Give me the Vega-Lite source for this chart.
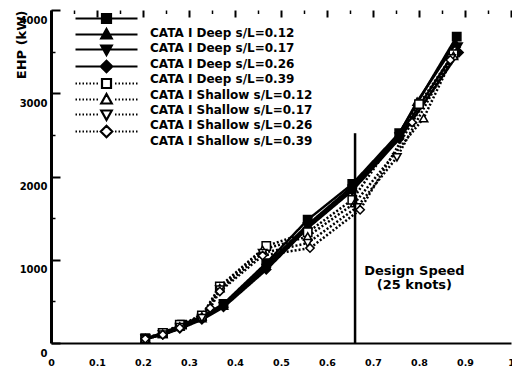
{
  "$schema": "https://vega.github.io/schema/vega-lite/v6.json",
  "width": 460,
  "height": 333,
  "autosize": {"type": "none"},
  "padding": {"left": 51, "top": 10, "right": 1, "bottom": 26},
  "config": {"view": {"stroke": null}, "font": "DejaVu Sans"},
  "datasets": {
    "curves": [
      {"series": "CATA I Deep s/L=0.12", "speed": 0.205, "ehp": 55},
      {"series": "CATA I Deep s/L=0.12", "speed": 0.243, "ehp": 120},
      {"series": "CATA I Deep s/L=0.12", "speed": 0.285, "ehp": 220},
      {"series": "CATA I Deep s/L=0.12", "speed": 0.328, "ehp": 320},
      {"series": "CATA I Deep s/L=0.12", "speed": 0.375, "ehp": 470},
      {"series": "CATA I Deep s/L=0.12", "speed": 0.468, "ehp": 960},
      {"series": "CATA I Deep s/L=0.12", "speed": 0.558, "ehp": 1480},
      {"series": "CATA I Deep s/L=0.12", "speed": 0.655, "ehp": 1910},
      {"series": "CATA I Deep s/L=0.12", "speed": 0.757, "ehp": 2520},
      {"series": "CATA I Deep s/L=0.12", "speed": 0.882, "ehp": 3680},
      {"series": "CATA I Deep s/L=0.17", "speed": 0.205, "ehp": 50},
      {"series": "CATA I Deep s/L=0.17", "speed": 0.243, "ehp": 110},
      {"series": "CATA I Deep s/L=0.17", "speed": 0.28, "ehp": 200},
      {"series": "CATA I Deep s/L=0.17", "speed": 0.328, "ehp": 300},
      {"series": "CATA I Deep s/L=0.17", "speed": 0.375, "ehp": 450},
      {"series": "CATA I Deep s/L=0.17", "speed": 0.468, "ehp": 930},
      {"series": "CATA I Deep s/L=0.17", "speed": 0.558, "ehp": 1420},
      {"series": "CATA I Deep s/L=0.17", "speed": 0.655, "ehp": 1880},
      {"series": "CATA I Deep s/L=0.17", "speed": 0.757, "ehp": 2510},
      {"series": "CATA I Deep s/L=0.17", "speed": 0.796, "ehp": 2900},
      {"series": "CATA I Deep s/L=0.17", "speed": 0.88, "ehp": 3600},
      {"series": "CATA I Deep s/L=0.26", "speed": 0.205, "ehp": 50},
      {"series": "CATA I Deep s/L=0.26", "speed": 0.243, "ehp": 100},
      {"series": "CATA I Deep s/L=0.26", "speed": 0.28, "ehp": 180},
      {"series": "CATA I Deep s/L=0.26", "speed": 0.328, "ehp": 290},
      {"series": "CATA I Deep s/L=0.26", "speed": 0.375, "ehp": 440},
      {"series": "CATA I Deep s/L=0.26", "speed": 0.468, "ehp": 900},
      {"series": "CATA I Deep s/L=0.26", "speed": 0.558, "ehp": 1400},
      {"series": "CATA I Deep s/L=0.26", "speed": 0.655, "ehp": 1850},
      {"series": "CATA I Deep s/L=0.26", "speed": 0.757, "ehp": 2480},
      {"series": "CATA I Deep s/L=0.26", "speed": 0.885, "ehp": 3560},
      {"series": "CATA I Deep s/L=0.39", "speed": 0.205, "ehp": 50},
      {"series": "CATA I Deep s/L=0.39", "speed": 0.243, "ehp": 100},
      {"series": "CATA I Deep s/L=0.39", "speed": 0.28, "ehp": 170},
      {"series": "CATA I Deep s/L=0.39", "speed": 0.328, "ehp": 280},
      {"series": "CATA I Deep s/L=0.39", "speed": 0.375, "ehp": 430},
      {"series": "CATA I Deep s/L=0.39", "speed": 0.468, "ehp": 880},
      {"series": "CATA I Deep s/L=0.39", "speed": 0.558, "ehp": 1380},
      {"series": "CATA I Deep s/L=0.39", "speed": 0.655, "ehp": 1830},
      {"series": "CATA I Deep s/L=0.39", "speed": 0.757, "ehp": 2450},
      {"series": "CATA I Deep s/L=0.39", "speed": 0.887, "ehp": 3490},
      {"series": "CATA I Shallow s/L=0.12", "speed": 0.205, "ehp": 55},
      {"series": "CATA I Shallow s/L=0.12", "speed": 0.243, "ehp": 120},
      {"series": "CATA I Shallow s/L=0.12", "speed": 0.28, "ehp": 220},
      {"series": "CATA I Shallow s/L=0.12", "speed": 0.328, "ehp": 330},
      {"series": "CATA I Shallow s/L=0.12", "speed": 0.367, "ehp": 680},
      {"series": "CATA I Shallow s/L=0.12", "speed": 0.468, "ehp": 1165},
      {"series": "CATA I Shallow s/L=0.12", "speed": 0.558, "ehp": 1330},
      {"series": "CATA I Shallow s/L=0.12", "speed": 0.655, "ehp": 1720},
      {"series": "CATA I Shallow s/L=0.12", "speed": 0.8, "ehp": 2870},
      {"series": "CATA I Shallow s/L=0.12", "speed": 0.875, "ehp": 3470},
      {"series": "CATA I Shallow s/L=0.17", "speed": 0.205, "ehp": 50},
      {"series": "CATA I Shallow s/L=0.17", "speed": 0.243, "ehp": 110},
      {"series": "CATA I Shallow s/L=0.17", "speed": 0.28, "ehp": 200},
      {"series": "CATA I Shallow s/L=0.17", "speed": 0.328, "ehp": 320},
      {"series": "CATA I Shallow s/L=0.17", "speed": 0.367, "ehp": 660},
      {"series": "CATA I Shallow s/L=0.17", "speed": 0.46, "ehp": 1120},
      {"series": "CATA I Shallow s/L=0.17", "speed": 0.558, "ehp": 1280},
      {"series": "CATA I Shallow s/L=0.17", "speed": 0.66, "ehp": 1680},
      {"series": "CATA I Shallow s/L=0.17", "speed": 0.81, "ehp": 2700},
      {"series": "CATA I Shallow s/L=0.17", "speed": 0.875, "ehp": 3450},
      {"series": "CATA I Shallow s/L=0.26", "speed": 0.205, "ehp": 50},
      {"series": "CATA I Shallow s/L=0.26", "speed": 0.243, "ehp": 100},
      {"series": "CATA I Shallow s/L=0.26", "speed": 0.28, "ehp": 190},
      {"series": "CATA I Shallow s/L=0.26", "speed": 0.328, "ehp": 300},
      {"series": "CATA I Shallow s/L=0.26", "speed": 0.367, "ehp": 640},
      {"series": "CATA I Shallow s/L=0.26", "speed": 0.46, "ehp": 1080},
      {"series": "CATA I Shallow s/L=0.26", "speed": 0.558, "ehp": 1200},
      {"series": "CATA I Shallow s/L=0.26", "speed": 0.665, "ehp": 1630},
      {"series": "CATA I Shallow s/L=0.26", "speed": 0.752, "ehp": 2230},
      {"series": "CATA I Shallow s/L=0.26", "speed": 0.87, "ehp": 3420},
      {"series": "CATA I Shallow s/L=0.39", "speed": 0.205, "ehp": 50},
      {"series": "CATA I Shallow s/L=0.39", "speed": 0.243, "ehp": 100},
      {"series": "CATA I Shallow s/L=0.39", "speed": 0.28, "ehp": 180},
      {"series": "CATA I Shallow s/L=0.39", "speed": 0.346, "ehp": 420},
      {"series": "CATA I Shallow s/L=0.39", "speed": 0.367, "ehp": 620},
      {"series": "CATA I Shallow s/L=0.39", "speed": 0.46, "ehp": 1050},
      {"series": "CATA I Shallow s/L=0.39", "speed": 0.563, "ehp": 1140},
      {"series": "CATA I Shallow s/L=0.39", "speed": 0.672, "ehp": 1600},
      {"series": "CATA I Shallow s/L=0.39", "speed": 0.785, "ehp": 2650},
      {"series": "CATA I Shallow s/L=0.39", "speed": 0.868, "ehp": 3400}
    ],
    "design": [{"speed": 0.661, "top": 2520, "bottom": 0}],
    "notes": [
      {"speed": 0.79, "ehp": 816, "label": "Design Speed"},
      {"speed": 0.79, "ehp": 648, "label": "(25 knots)"}
    ]
  },
  "resolve": {"axis": {"x": "independent", "y": "independent"}, "scale": {"shape": "independent", "fill": "independent", "stroke": "independent"}},
  "layer": [
    {
      "data": {"name": "curves"},
      "mark": {"type": "line", "stroke": "black", "strokeWidth": 2.5},
      "encoding": {
        "x": {"field": "speed", "type": "quantitative", "scale": {"domain": [0, 1], "nice": false},
          "axis": {"orient": "bottom", "title": null, "values": [0, 0.1, 0.2, 0.3, 0.4, 0.5, 0.6, 0.7, 0.8, 0.9, 1],
            "format": "~g", "domain": false, "ticks": false,
            "grid": true, "gridColor": "black", "gridWidth": 2, "gridDash": [7, 1000], "gridOpacity": 1,
            "labelFont": "DejaVu Sans", "labelFontWeight": "bold", "labelFontSize": 9.5, "labelColor": "black", "labelPadding": 14, "labelFlush": false, "labelOverlap": false}},
        "y": {"field": "ehp", "type": "quantitative", "scale": {"domain": [0, 4000], "nice": false},
          "axis": {"orient": "left", "title": "EHP (kW)", "values": [0, 1000, 2000, 3000, 4000], "format": "d",
            "domain": false, "ticks": false,
            "grid": true, "gridColor": "black", "gridWidth": 2, "gridDash": [9, 1000], "gridOpacity": 1,
            "labelFont": "DejaVu Sans", "labelFontWeight": "bold", "labelFontSize": 10, "labelColor": "black", "labelPadding": 4,
            "labelBaseline": "top", "labelOffset": 5, "labelFlush": false, "labelOverlap": false,
            "titleFont": "DejaVu Sans", "titleFontWeight": "bold", "titleFontSize": 13, "titleColor": "black", "titleAnchor": "end", "titleX": -23}},
        "strokeDash": {"field": "series", "type": "nominal",
          "scale": {"domain": ["CATA I Deep s/L=0.12", "CATA I Deep s/L=0.17", "CATA I Deep s/L=0.26", "CATA I Deep s/L=0.39", "CATA I Shallow s/L=0.12", "CATA I Shallow s/L=0.17", "CATA I Shallow s/L=0.26", "CATA I Shallow s/L=0.39"],
            "range": [[1, 0], [1, 0], [1, 0], [1, 0], [2, 2], [2, 2], [2, 2], [2, 2]]},
          "legend": {"title": null, "orient": "none", "legendX": 83, "legendY": 17, "padding": 0, "symbolSize": 100, "symbolStrokeWidth": 2,
            "symbolOpacity": 0, "labelOffset": 4, "rowPadding": 3.4, "labelFont": "DejaVu Sans", "labelFontWeight": "bold",
            "labelFontSize": 12, "labelColor": "black", "labelLimit": 400}
        }
      }
    },
    {
      "data": {"name": "curves"},
      "mark": {"type": "point", "filled": false, "stroke": "black", "strokeWidth": 1.5, "size": 70, "opacity": 1},
      "encoding": {
        "x": {"field": "speed", "type": "quantitative", "axis": null},
        "y": {"field": "ehp", "type": "quantitative", "axis": null},
        "fill": {"field": "series", "type": "nominal", "legend": null,
          "scale": {"range": ["black", "black", "black", "black", "white", "white", "white", "white"]}},
        "shape": {"field": "series", "type": "nominal", "legend": null,
          "scale": {"range": ["square", "triangle-up", "triangle-down", "diamond", "square", "triangle-up", "triangle-down", "diamond"]}}
      }
    },
    {
      "data": {"name": "curves"},
      "mark": {"type": "point", "filled": false, "strokeWidth": 2, "opacity": 0},
      "encoding": {
        "x": {"field": "speed", "type": "quantitative", "axis": null},
        "y": {"field": "ehp", "type": "quantitative", "axis": null},
        "fill": {"field": "series", "type": "nominal",
          "scale": {"range": ["black", "black", "black", "black", "white", "white", "white", "white"]}},
        "stroke": {"field": "series", "type": "nominal",
          "scale": {"range": ["black", "black", "black", "black", "black", "black", "black", "black"]}},
        "shape": {"field": "series", "type": "nominal",
          "scale": {"range": [
            "M-6.2,0H6.2M-0.9,-0.9H0.9V0.9H-0.9Z",
            "M-6.2,0H6.2M0,-1.1L1.05,0.8H-1.05Z",
            "M-6.2,0H6.2M0,1.1L1.05,-0.8H-1.05Z",
            "M-6.2,0H6.2M0,-1.15L1.15,0L0,1.15L-1.15,0Z",
            "M-6.2,0h0.3M-5.5,0h0.3M-4.8,0h0.3M-4.1,0h0.3M-3.4,0h0.3M-2.7,0h0.3M-2,0h0.3M1.7,0h0.3M2.4,0h0.3M3.1,0h0.3M3.8,0h0.3M4.5,0h0.3M5.2,0h0.3M5.9,0h0.3M-0.9,-0.9H0.9V0.9H-0.9Z",
            "M-6.2,0h0.3M-5.5,0h0.3M-4.8,0h0.3M-4.1,0h0.3M-3.4,0h0.3M-2.7,0h0.3M-2,0h0.3M1.7,0h0.3M2.4,0h0.3M3.1,0h0.3M3.8,0h0.3M4.5,0h0.3M5.2,0h0.3M5.9,0h0.3M0,-1.1L1.05,0.8H-1.05Z",
            "M-6.2,0h0.3M-5.5,0h0.3M-4.8,0h0.3M-4.1,0h0.3M-3.4,0h0.3M-2.7,0h0.3M-2,0h0.3M1.7,0h0.3M2.4,0h0.3M3.1,0h0.3M3.8,0h0.3M4.5,0h0.3M5.2,0h0.3M5.9,0h0.3M0,1.1L1.05,-0.8H-1.05Z",
            "M-6.2,0h0.3M-5.5,0h0.3M-4.8,0h0.3M-4.1,0h0.3M-3.4,0h0.3M-2.7,0h0.3M-2,0h0.3M1.7,0h0.3M2.4,0h0.3M3.1,0h0.3M3.8,0h0.3M4.5,0h0.3M5.2,0h0.3M5.9,0h0.3M0,-1.15L1.15,0L0,1.15L-1.15,0Z"]},
          "legend": {"title": null, "orient": "none", "legendX": 49, "legendY": 2, "padding": 0, "symbolSize": 100, "symbolStrokeWidth": 2.2,
            "symbolOpacity": 1, "labelExpr": "''", "labelOffset": 4, "rowPadding": -4.3,
            "labelFont": "DejaVu Sans", "labelFontWeight": "bold", "labelFontSize": 12, "labelLimit": 400}
        }
      }
    },
    {
      "data": {"name": "design"},
      "mark": {"type": "rule", "stroke": "black", "strokeWidth": 2.5},
      "encoding": {
        "x": {"field": "speed", "type": "quantitative",
          "axis": {"orient": "bottom", "title": null, "values": [0.05, 0.15, 0.25, 0.35, 0.45, 0.55, 0.65, 0.75, 0.85, 0.95], "labels": false, "domain": false, "ticks": false,
            "grid": true, "gridColor": "black", "gridWidth": 1.5, "gridDash": [3.5, 1000], "gridOpacity": 1}},
        "y": {"field": "top", "type": "quantitative",
          "axis": {"orient": "left", "title": null, "values": [500, 1500, 2500, 3500], "labels": false, "domain": false, "ticks": false,
            "grid": true, "gridColor": "black", "gridWidth": 1.5, "gridDash": [4, 1000], "gridOpacity": 1}},
        "y2": {"field": "bottom"}
      }
    },
    {
      "data": {"name": "notes"},
      "mark": {"type": "text", "font": "DejaVu Sans", "fontWeight": "bold", "fontSize": 13, "align": "center", "baseline": "alphabetic", "color": "black"},
      "encoding": {
        "x": {"field": "speed", "type": "quantitative",
          "axis": {"orient": "bottom", "title": null, "labels": false, "ticks": false, "grid": false, "domain": true, "domainColor": "black", "domainWidth": 2}},
        "y": {"field": "ehp", "type": "quantitative",
          "axis": {"orient": "left", "title": null, "labels": false, "ticks": false, "grid": false, "domain": true, "domainColor": "black", "domainWidth": 3}},
        "text": {"field": "label", "type": "nominal"}
      }
    }
  ]
}
